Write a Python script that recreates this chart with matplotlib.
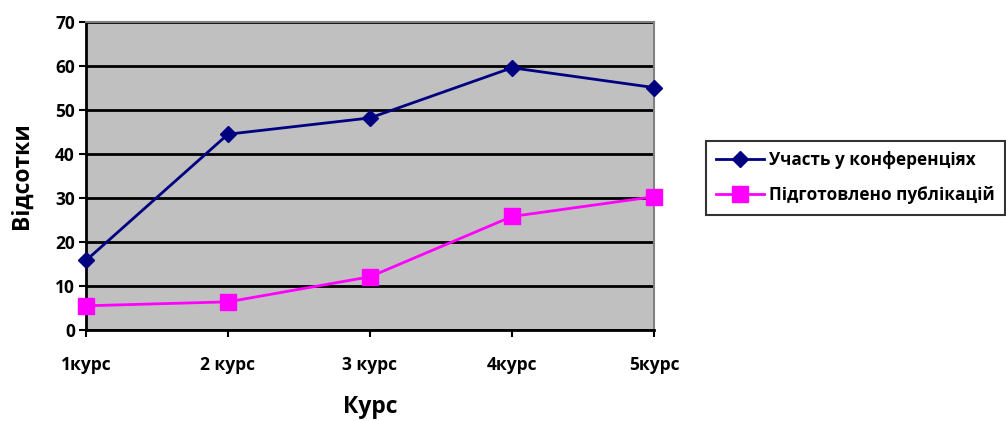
import matplotlib.pyplot as plt

plt.rcParams['font.family'] = ['Open Sans', 'DejaVu Sans']
plt.rcParams['font.weight'] = 'bold'

courses = ['1курс', '2 курс', '3 курс', '4курс', '5курс']
conferences = [15.8, 44.5, 48.2, 59.6, 55.1]
publications = [5.5, 6.4, 12.1, 25.8, 30.3]

fig = plt.figure(figsize=(10.06, 4.21), dpi=100)
ax = fig.add_axes([86 / 1006, 1 - 330 / 421, (654 - 86) / 1006, (330 - 22) / 421])
ax.set_facecolor('#c0c0c0')

x = range(len(courses))
ax.plot(x, conferences, color='#000080', marker='D', markersize=8.5, lw=2,
        label='Участь у конференціях', clip_on=False, zorder=3)
ax.plot(x, publications, color='#ff00ff', marker='s', markersize=12, lw=2,
        label='Підготовлено публікацій', clip_on=False, zorder=3)

ax.set_xlim(0, len(courses) - 1)
ax.set_ylim(0, 70)
ax.set_yticks(range(0, 71, 10))
ax.set_xticks(list(x))
ax.set_xticklabels(courses, fontsize=12.5, fontweight='bold')
ax.tick_params(axis='y', labelsize=12.5, length=5, width=1.5, pad=3)
ax.tick_params(axis='x', length=5, width=1.5, pad=14)
ax.yaxis.grid(True, color='black', lw=2)
ax.set_axisbelow(True)

for s in ['top', 'right']:
    ax.spines[s].set_color('#808080')
    ax.spines[s].set_linewidth(1.5)
for s in ['left', 'bottom']:
    ax.spines[s].set_color('black')
    ax.spines[s].set_linewidth(2)

ax.set_xlabel('Курс', fontsize=16.5, fontweight='bold', labelpad=15)
ax.set_ylabel('Відсотки', fontsize=16.5, fontweight='bold', labelpad=15)

leg = fig.legend(loc='upper left', bbox_to_anchor=(706 / 1006, 1 - 141 / 421),
                 frameon=True, fancybox=False, fontsize=12.3, edgecolor='black',
                 borderaxespad=0, handlelength=2.8, handletextpad=0.3,
                 borderpad=0.6, labelspacing=1.0)
leg.get_frame().set_linewidth(1.5)
for t in leg.get_texts():
    t.set_fontweight('bold')

fig.savefig('out.png', dpi=100)
